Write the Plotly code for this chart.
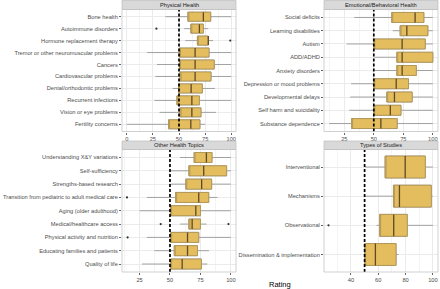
import plotly.graph_objects as go

# ---------------- data ----------------
ph_cats = ["Bone health", "Autoimmune disorders", "Hormone replacement therapy",
           "Tremor or other neuromuscular problems", "Cancers", "Cardiovascular problems",
           "Dental/orthodontic problems", "Recurrent infections", "Vision or eye problems",
           "Fertility concerns"]
ph_low = [37, 55, 56, 19.6, 29, 27.5, 43.9, 26.5, 31.3, 0]
ph_q1 = [58.5, 61.3, 67.6, 50.5, 50.5, 51, 49.6, 48, 51, 40]
ph_med = [73.3, 69.5, 78, 65.4, 65.4, 65.4, 61.6, 62.3, 62.3, 61.3]
ph_q3 = [80.3, 73.3, 78, 78.7, 83.7, 80.6, 72.3, 69.5, 71, 70]
ph_high = [100, 78, 82.6, 100, 100, 100, 84.4, 100, 85.3, 75]
ph_out_cat = ["Autoimmune disorders", "Hormone replacement therapy"]
ph_out_val = [28.4, 99]

eb_cats = ["Social deficits", "Learning disabilities", "Autism", "ADD/ADHD",
           "Anxiety disorders", "Depression or mood problems", "Developmental delays",
           "Self harm and suicidality", "Substance dependence"]
eb_low = [33.5, 66, 27, 50.8, 50.8, 30.7, 30, 29.2, 12.3]
eb_q1 = [65.2, 72.3, 50, 69.5, 69.5, 50, 61, 50, 31.2]
eb_med = [85, 78, 74, 74, 74, 69, 67.5, 64, 56]
eb_q3 = [92.4, 95.8, 93.6, 100, 86, 79.4, 82.5, 73, 69.8]
eb_high = [100, 100, 100, 100, 100, 100, 100, 100, 100]

oh_cats = ["Understanding X&Y variations", "Self-sufficiency", "Strengths-based research",
           "Transition from pediatric to adult medical care", "Aging (older adulthood)",
           "Medical/healthcare access", "Physical activity and nutrition",
           "Educating families and patients", "Quality of life"]
oh_low = [58.2, 50.5, 50.5, 31, 25, 58.2, 31, 37.2, 27]
oh_q1 = [69.8, 65.5, 63, 54.6, 50.5, 65.5, 50.5, 53.5, 50.5]
oh_med = [79.9, 77.7, 76, 73.6, 71.2, 68.2, 64.4, 64.4, 60]
oh_q3 = [84.5, 96.5, 84.2, 81.8, 75, 75, 73.6, 72.6, 75.8]
oh_high = [100, 100, 100, 88.9, 100, 79.9, 100, 82, 80.7]
oh_out_cat = ["Transition from pediatric to adult medical care", "Medical/healthcare access",
              "Medical/healthcare access", "Physical activity and nutrition"]
oh_out_val = [14.7, 42.4, 98, 15.2]

ts_cats = ["Interventional", "Mechanisms", "Observational", "Dissemination & implementation"]
ts_low = [50.3, 50.3, 58.8, 50]
ts_q1 = [65, 71.1, 61, 50]
ts_med = [79.7, 75.5, 71.3, 57.9]
ts_q3 = [94.4, 98.8, 81.2, 73]
ts_high = [100, 100, 100, 74.8]
ts_out_cat = ["Observational"]
ts_out_val = [23.6]

titles = ["Physical Health", "Emotional/Behavioral Health", "Other Health Topics", "Types of Studies"]
threshold = 50

# ---------------- styling ----------------
FILL = "#E4BD5E"
WHISK = "#8E8E8E"
BOXLINE = "#B09556"
MEDLINE = "#5E4A24"
FONT = "Liberation Sans"
W, H = 440, 289

def px_x(a):
    return a / W

def px_y(b):
    return 1 - b / H

panels = [
    dict(cats=ph_cats, low=ph_low, q1=ph_q1, med=ph_med, q3=ph_q3, high=ph_high,
         oc=ph_out_cat, ov=ph_out_val, rng=[-4.5, 104.5], tick0=0, dtick=25,
         xd=(122, 236), yd=(9.5, 131.5)),
    dict(cats=eb_cats, low=eb_low, q1=eb_q1, med=eb_med, q3=eb_q3, high=eb_high,
         oc=[], ov=[], rng=[7.8, 104.4], tick0=0, dtick=25,
         xd=(324, 438), yd=(9.5, 131.5)),
    dict(cats=oh_cats, low=oh_low, q1=oh_q1, med=oh_med, q3=oh_q3, high=oh_high,
         oc=oh_out_cat, ov=oh_out_val, rng=[10.6, 104.2], tick0=0, dtick=25,
         xd=(122, 236), yd=(149.5, 272)),
    dict(cats=ts_cats, low=ts_low, q1=ts_q1, med=ts_med, q3=ts_q3, high=ts_high,
         oc=ts_out_cat, ov=ts_out_val, rng=[20.3, 103.7], tick0=0, dtick=20,
         xd=(324, 438), yd=(149.5, 272)),
]

fig = go.Figure()
shapes = []
annotations = []
layout = {}

def add_box(p, lo, a, m, b, hi, fill, color, width, xa, ya):
    fig.add_trace(go.Box(
        y=p["cats"], q1=a, median=m, q3=b, lowerfence=lo, upperfence=hi,
        orientation="h", fillcolor=fill, line=dict(color=color, width=width),
        width=0.75, whiskerwidth=0, boxpoints=False, xaxis=xa, yaxis=ya,
        showlegend=False, hoverinfo="skip"))

for i, p in enumerate(panels):
    k = "" if i == 0 else str(i + 1)
    xa, ya = "x" + k, "y" + k
    add_box(p, p["low"], p["q1"], p["q1"], p["q3"], p["high"], FILL, WHISK, 0.8, xa, ya)
    add_box(p, p["q1"], p["q1"], p["q1"], p["q3"], p["q3"], FILL, BOXLINE, 0.9, xa, ya)
    add_box(p, p["med"], p["med"], p["med"], p["med"], p["med"], "rgba(0,0,0,0)", MEDLINE, 1.3, xa, ya)
    if p["oc"]:
        fig.add_trace(go.Scatter(
            x=p["ov"], y=p["oc"], mode="markers",
            marker=dict(size=2.2, color="#333333"), xaxis=xa, yaxis=ya,
            showlegend=False, hoverinfo="skip"))
    n = len(p["cats"])
    layout["xaxis" + k] = dict(
        domain=[px_x(p["xd"][0]), px_x(p["xd"][1])], anchor=ya, range=p["rng"],
        tick0=p["tick0"], dtick=p["dtick"], showgrid=True, gridcolor="#EBEBEB",
        gridwidth=0.8, zeroline=False, ticks="outside", ticklen=2, tickcolor="#666666",
        tickwidth=0.6, tickfont=dict(size=5.7, color="#4D4D4D", family=FONT),
        minor=dict(dtick=p["dtick"] / 2, showgrid=True, gridcolor="#F4F4F4", gridwidth=0.5),
        showline=False, mirror=False)
    layout["yaxis" + k] = dict(
        domain=[px_y(p["yd"][1]), px_y(p["yd"][0])], anchor=xa, type="category",
        categoryorder="array", categoryarray=p["cats"][::-1], range=[-0.6, n - 0.4],
        showgrid=True, gridcolor="#EBEBEB", gridwidth=0.8, zeroline=False,
        ticks="outside", ticklen=2, tickcolor="#666666", tickwidth=0.6,
        tickfont=dict(size=5.7, color="#4D4D4D", family=FONT), showline=False)
    shapes.append(dict(type="line", xref=xa, yref=ya + " domain", x0=threshold, x1=threshold,
                       y0=0, y1=1, line=dict(color="black", width=1.7, dash="3px,2px"),
                       layer="above"))
    shapes.append(dict(type="rect", xref="paper", yref="paper",
                       x0=px_x(p["xd"][0]), x1=px_x(p["xd"][1]),
                       y0=px_y(p["yd"][1]), y1=px_y(p["yd"][0]),
                       line=dict(color="#BDBDBD", width=0.7), layer="above"))
    sy0 = p["yd"][0] - 9 if i < 2 else p["yd"][0] - 8.5
    shapes.append(dict(type="rect", xref="paper", yref="paper",
                       x0=px_x(p["xd"][0]), x1=px_x(p["xd"][1]),
                       y0=px_y(p["yd"][0]), y1=px_y(sy0),
                       fillcolor="#D9D9D9", line=dict(color="#BDBDBD", width=0.7)))
    annotations.append(dict(text=titles[i], xref="paper", yref="paper",
                            x=px_x((p["xd"][0] + p["xd"][1]) / 2),
                            y=px_y((p["yd"][0] + sy0) / 2), showarrow=False,
                            xanchor="center", yanchor="middle",
                            font=dict(size=5.7, color="#1A1A1A", family=FONT)))

annotations.append(dict(text="Rating", xref="paper", yref="paper", x=px_x(280), y=px_y(284),
                        showarrow=False, xanchor="center", yanchor="middle",
                        font=dict(size=7.5, color="#000000", family=FONT)))

fig.update_layout(width=W, height=H, margin=dict(l=0, r=0, t=0, b=0),
                  paper_bgcolor="white", plot_bgcolor="white", shapes=shapes,
                  annotations=annotations, boxmode="overlay", **layout)

fig.write_html("out.html", config={"displayModeBar": False},
               post_script="document.body.style.margin='0';document.body.style.overflow='hidden';")
